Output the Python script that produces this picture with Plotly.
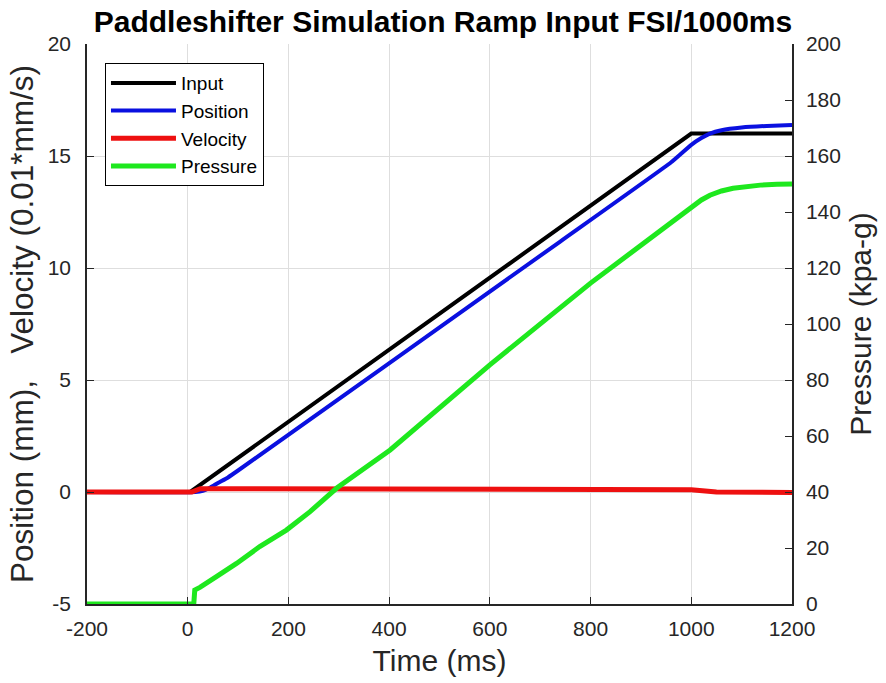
import plotly.graph_objects as go

# ---- data ----
input_t = [-200, 5, 1000, 1200]
input_v = [0, 0, 16, 16]

position_t = [-200, 15, 30, 45, 60, 80, 100, 739, 960, 1000, 1020, 1037, 1060, 1100, 1150, 1200]
position_v = [0, 0, 0.05, 0.2, 0.4, 0.65, 0.96, 11.17, 14.72, 15.5, 15.8, 16.0, 16.15, 16.27, 16.34, 16.38]

velocity_t = [-200, 8, 25, 950, 1000, 1050, 1100, 1200]
velocity_v = [0, 0, 0.15, 0.14, 0.1, 0.0, -0.02, -0.02]

pressure_t = [-200, 12, 14, 25, 57, 97, 143, 196, 243, 296, 402, 600, 800, 960, 1000, 1020, 1037, 1060, 1083, 1110, 1137, 1170, 1200]
pressure_v = [0, 0, 5, 6, 9.8, 14.5, 20.5, 26.4, 33, 41.4, 55, 85.4, 114.6, 136.5, 141.9, 144.3, 146, 147.5, 148.5, 149.1, 149.6, 149.9, 150]

x_ticks = [-200, 0, 200, 400, 600, 800, 1000, 1200]
x_ticklabels = ["-200", "0", "200", "400", "600", "800", "1000", "1200"]
y_left_ticks = [-5, 0, 5, 10, 15, 20]
y_left_ticklabels = ["-5", "0", "5", "10", "15", "20"]
y_right_ticks = [0, 20, 40, 60, 80, 100, 120, 140, 160, 180, 200]

FONT = "Liberation Sans, Arial, sans-serif"
TICKCOL = "#262626"

fig = go.Figure()
fig.add_trace(go.Scatter(x=input_t, y=input_v, name="Input", mode="lines",
                         line=dict(color="#000000", width=4)))
fig.add_trace(go.Scatter(x=position_t, y=position_v, name="Position", mode="lines",
                         line=dict(color="#0a10e0", width=4, shape="spline", smoothing=0.4)))
fig.add_trace(go.Scatter(x=velocity_t, y=velocity_v, name="Velocity", mode="lines",
                         line=dict(color="#ee1010", width=5)))
fig.add_trace(go.Scatter(x=pressure_t, y=pressure_v, name="Pressure", mode="lines", yaxis="y2",
                         line=dict(color="#1ee81e", width=5)))

fig.update_layout(
    width=886, height=683,
    margin=dict(l=87, r=94, t=44, b=79),
    paper_bgcolor="white", plot_bgcolor="white",
    font=dict(family=FONT, color=TICKCOL, size=21),
    title=dict(text="<b>Paddleshifter Simulation Ramp Input FSI/1000ms</b>",
               x=0.5, xanchor="center", y=0.969, yanchor="middle",
               font=dict(size=30, color="#000000", family=FONT)),
    showlegend=True,
    legend=dict(x=0.0255, y=0.966, xanchor="left", yanchor="top",
                bgcolor="white", bordercolor="#000000", borderwidth=1,
                font=dict(size=19, color="#000000", family=FONT),
                tracegroupgap=0, itemwidth=65),
    xaxis=dict(range=[-200, 1200], tickvals=x_ticks, ticktext=x_ticklabels,
               showgrid=True, gridcolor="#dedede",
               gridwidth=1, zeroline=False, showline=True, linecolor="#262626", linewidth=1.5,
               ticks="inside", ticklen=7, tickcolor="#262626", ticklabelstandoff=5,
               tickfont=dict(size=21, color=TICKCOL),
               title=dict(text="Time (ms)", font=dict(size=30, color=TICKCOL), standoff=11)),
    yaxis=dict(range=[-5, 20], tickvals=y_left_ticks, ticktext=y_left_ticklabels,
               showgrid=True, gridcolor="#dedede",
               zeroline=False, showline=True, linecolor="#262626", linewidth=1.5,
               ticks="inside", ticklen=7, tickcolor="#262626", ticklabelstandoff=10,
               tickfont=dict(size=21, color=TICKCOL),
               title=dict(text="Position (mm),\u00a0\u00a0\u00a0Velocity (0.01*mm/s)",
                          font=dict(size=31.5, color=TICKCOL), standoff=5)),
    yaxis2=dict(range=[0, 200], tickvals=y_right_ticks, overlaying="y", side="right",
                showgrid=False, zeroline=False, showline=True, linecolor="#262626", linewidth=1.5,
                ticks="inside", ticklen=7, tickcolor="#262626", ticklabelstandoff=8,
                tickfont=dict(size=21, color=TICKCOL),
                title=dict(text="Pressure (kpa-g)", font=dict(size=30, color=TICKCOL), standoff=10)),
)

fig.write_html("out.html")
